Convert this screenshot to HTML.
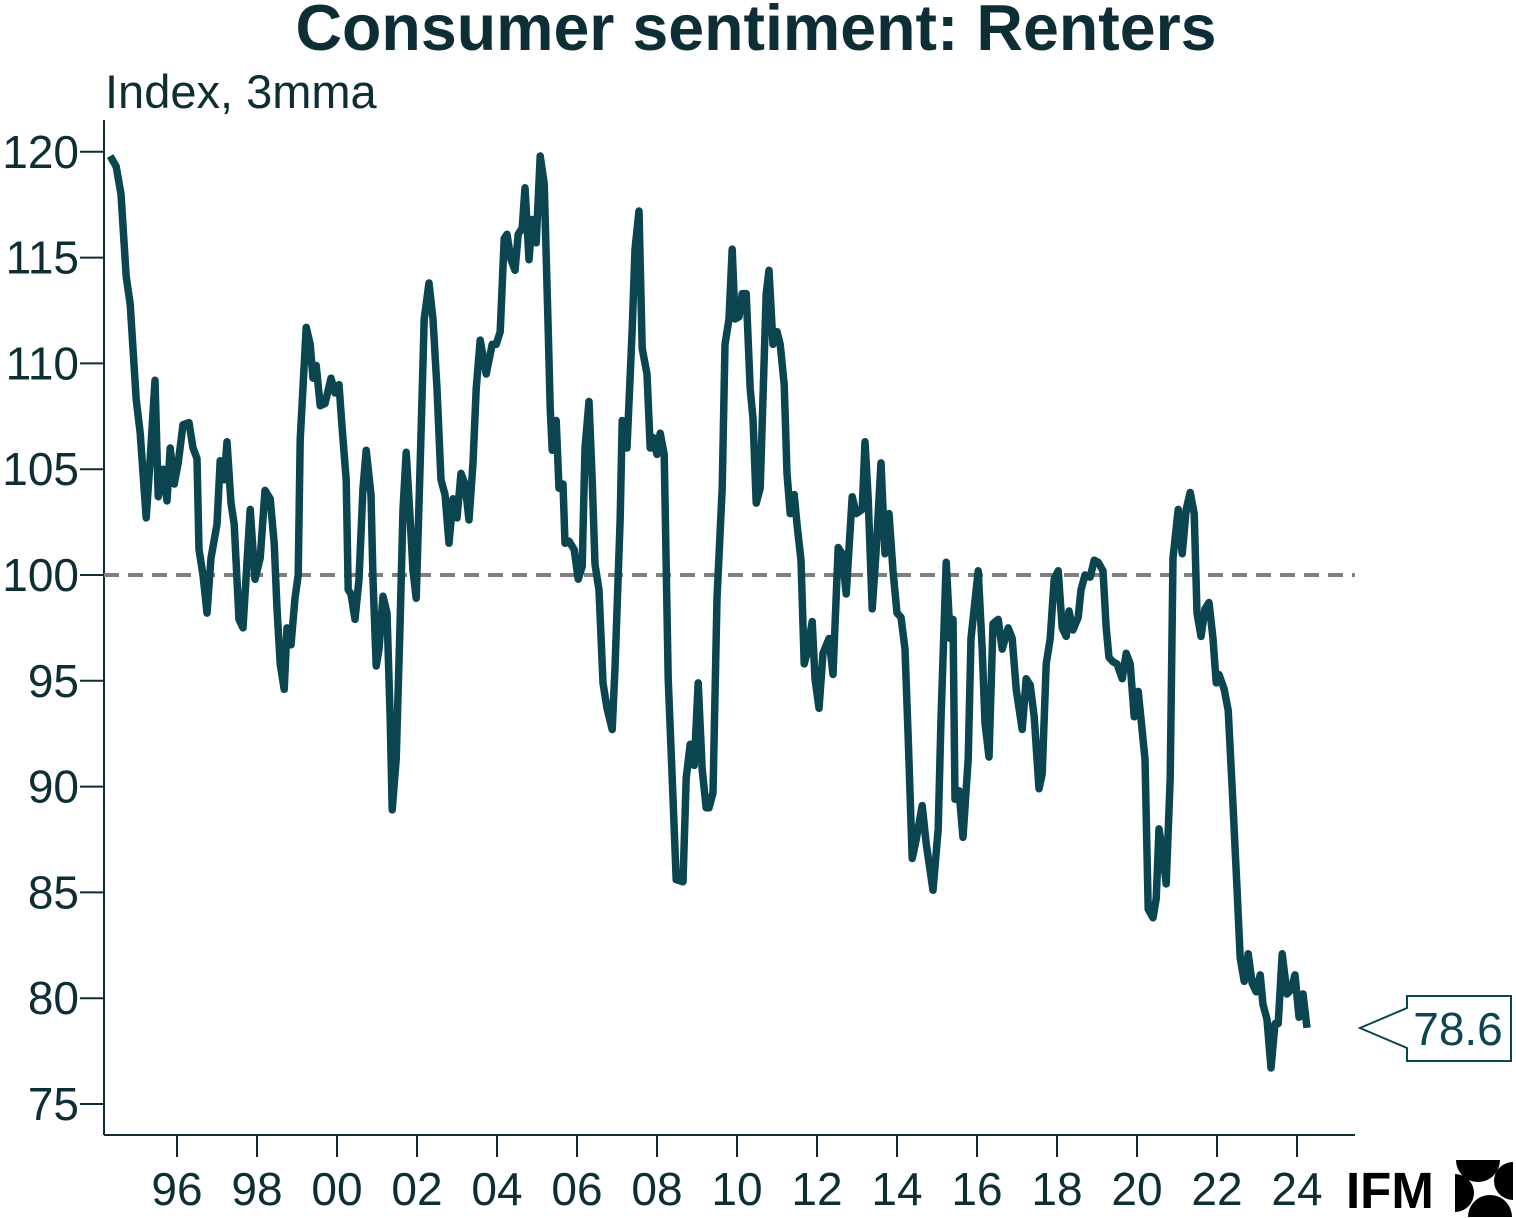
<!DOCTYPE html>
<html><head><meta charset="utf-8"><style>
html,body{margin:0;padding:0;background:#fff;}
svg{display:block;font-family:"Liberation Sans",Arial,sans-serif;}
</style></head><body>
<svg id="chart" width="1516" height="1218" viewBox="0 0 1516 1218">
<text x="756" y="50" text-anchor="middle" font-size="64.5" font-weight="bold" fill="#0e2e35">Consumer sentiment: Renters</text>
<text x="105" y="108" font-size="47" fill="#0e2e35">Index, 3mma</text>
<g id="axes"></g>
<line x1="104" y1="575" x2="1355" y2="575" stroke="#808080" stroke-width="4" stroke-dasharray="15 9" id="refline"/>
<path id="series" fill="none" stroke="#0b4550" stroke-width="7.5" stroke-linejoin="round"/>
<g>
<polygon points="1360,1028 1407,1008 1407,996 1511,996 1511,1061 1407,1061 1407,1048" fill="#fff" stroke="#0b4550" stroke-width="2"/>
<text id="lastval" x="1458" y="1045" text-anchor="middle" font-size="46" fill="#0b4550">78.6</text>
</g>
<g>
<text x="1346" y="1208" font-size="51" font-weight="bold" fill="#000">IFM</text>
<path d="M1456,1160 h44 a22,22 0 0 1 -44,0 z" fill="#000"/>
<path d="M1455,1174 v38 a19,19 0 0 0 0,-38 z" fill="#000"/>
<path d="M1513,1162 v38 a19,19 0 0 1 0,-38 z" fill="#000"/>
<path d="M1468,1217 h44 a22,22 0 0 0 -44,0 z" fill="#000"/>
</g>
</svg>
<script>
const years=[1994.33,1994.48,1994.60,1994.73,1994.83,1994.98,1995.08,1995.23,1995.33,1995.45,1995.53,1995.65,1995.75,1995.83,1995.93,1996.03,1996.15,1996.30,1996.40,1996.50,1996.55,1996.65,1996.75,1996.85,1997.00,1997.08,1997.18,1997.25,1997.35,1997.43,1997.55,1997.65,1997.83,1997.95,1998.08,1998.20,1998.33,1998.43,1998.50,1998.58,1998.68,1998.75,1998.85,1998.95,1999.03,1999.08,1999.23,1999.33,1999.40,1999.48,1999.58,1999.70,1999.85,1999.95,2000.05,2000.13,2000.23,2000.28,2000.35,2000.45,2000.55,2000.65,2000.73,2000.85,2000.90,2000.98,2001.05,2001.15,2001.25,2001.33,2001.38,2001.48,2001.58,2001.65,2001.73,2001.83,2001.90,2001.98,2002.08,2002.18,2002.30,2002.40,2002.50,2002.60,2002.70,2002.80,2002.90,2003.00,2003.10,2003.20,2003.30,2003.40,2003.48,2003.58,2003.73,2003.88,2003.98,2004.08,2004.18,2004.25,2004.35,2004.45,2004.53,2004.63,2004.70,2004.80,2004.88,2004.98,2005.08,2005.18,2005.28,2005.33,2005.38,2005.48,2005.55,2005.65,2005.70,2005.80,2005.93,2006.03,2006.13,2006.20,2006.30,2006.38,2006.45,2006.55,2006.65,2006.75,2006.88,2006.95,2007.08,2007.13,2007.25,2007.38,2007.45,2007.55,2007.63,2007.75,2007.83,2007.90,2008.00,2008.08,2008.18,2008.28,2008.38,2008.48,2008.65,2008.73,2008.83,2008.93,2009.03,2009.13,2009.23,2009.30,2009.40,2009.50,2009.63,2009.70,2009.80,2009.88,2009.95,2010.05,2010.13,2010.23,2010.33,2010.40,2010.48,2010.58,2010.73,2010.80,2010.90,2011.00,2011.08,2011.18,2011.25,2011.33,2011.43,2011.50,2011.60,2011.68,2011.75,2011.88,2011.95,2012.05,2012.15,2012.30,2012.40,2012.53,2012.63,2012.73,2012.88,2012.98,2013.13,2013.20,2013.28,2013.38,2013.48,2013.60,2013.70,2013.80,2013.90,2014.00,2014.10,2014.20,2014.28,2014.38,2014.48,2014.63,2014.73,2014.90,2015.03,2015.10,2015.23,2015.33,2015.40,2015.45,2015.55,2015.65,2015.78,2015.85,2016.03,2016.13,2016.20,2016.30,2016.40,2016.53,2016.63,2016.78,2016.88,2016.98,2017.13,2017.23,2017.33,2017.43,2017.55,2017.63,2017.73,2017.83,2017.93,2018.03,2018.13,2018.23,2018.30,2018.40,2018.53,2018.60,2018.70,2018.83,2018.93,2019.03,2019.15,2019.23,2019.30,2019.40,2019.50,2019.63,2019.73,2019.83,2019.93,2020.03,2020.10,2020.20,2020.28,2020.40,2020.48,2020.55,2020.63,2020.73,2020.83,2020.90,2021.03,2021.13,2021.23,2021.33,2021.43,2021.50,2021.60,2021.70,2021.80,2021.90,2021.98,2022.05,2022.18,2022.28,2022.38,2022.50,2022.58,2022.68,2022.78,2022.88,2022.98,2023.08,2023.15,2023.25,2023.35,2023.45,2023.53,2023.63,2023.75,2023.85,2023.95,2024.05,2024.15,2024.25];
const values=[119.8,119.3,118,114.1,112.8,108.3,106.7,102.7,105.5,109.2,103.7,105,103.5,106,104.3,105.3,107.1,107.2,106,105.5,101.2,100,98.2,100.8,102.4,105.4,104.5,106.3,103.4,102.4,97.9,97.5,103.1,99.8,100.8,104,103.6,101.5,98.4,95.8,94.6,97.5,96.7,98.9,100,106.4,111.7,110.9,109.3,109.9,108,108.1,109.3,108.6,109,106.9,104.5,99.3,99.1,97.9,99.8,104.1,105.9,103.8,99.8,95.7,96.5,99,98.2,93.2,88.9,91.3,97.9,103.1,105.8,102.6,100.2,98.9,105.3,112.1,113.8,112.1,108.8,104.5,103.8,101.5,103.6,102.7,104.8,104.3,102.6,105.3,108.8,111.1,109.5,110.9,110.9,111.5,115.9,116.1,114.9,114.4,116.1,116.4,118.3,114.9,116.8,115.7,119.8,118.5,111.6,107.9,105.9,107.3,104.1,104.3,101.5,101.6,101.2,99.8,100.4,106,108.2,104.5,100.5,99.3,94.9,93.7,92.7,95.6,102.7,107.3,106,111.6,115.4,117.2,110.7,109.5,106,106.5,105.7,106.7,105.7,95.1,90.4,85.6,85.5,90.4,92,91,94.9,90.8,89,89,89.7,98.9,104.1,110.9,112.1,115.4,112.1,112.2,113.3,113.3,108.8,107.4,103.4,104.1,113.3,114.4,110.9,111.5,110.9,109,104.8,102.9,103.8,102.4,100.7,95.8,96.3,97.8,95.1,93.7,96.3,97,95.3,101.3,101,99.1,103.7,102.9,103.1,106.3,103.6,98.4,101.2,105.3,101,102.9,100.2,98.2,98,96.5,92.3,86.6,87.5,89.1,87.3,85.1,88,93.2,100.6,97,97.9,89.4,89.8,87.6,91.3,97,100.2,96.5,93,91.4,97.7,97.9,96.5,97.5,97,94.6,92.7,95.1,94.8,93.3,89.9,90.6,95.8,97,99.8,100.2,97.5,97.1,98.3,97.4,98,99.3,100,99.9,100.7,100.6,100.2,97.5,96.1,95.9,95.8,95.1,96.3,95.8,93.3,94.5,93.2,91.3,84.2,83.8,84.7,88,87,85.4,90.4,100.8,103.1,101,103.1,103.9,102.9,98.2,97.1,98.4,98.7,97,94.9,95.3,94.6,93.6,89.9,85.2,81.9,80.8,82.1,80.7,80.3,81.1,79.7,79,76.7,78.8,78.8,82.1,80.2,80.4,81.1,79.1,80.2,78.6];
const yTicks=[75,80,85,90,95,100,105,110,115,120];
const xTicks=[1996,1998,2000,2002,2004,2006,2008,2010,2012,2014,2016,2018,2020,2022,2024];
const xTickLabels=["96","98","00","02","04","06","08","10","12","14","16","18","20","22","24"];
const refValue=100;

const NS="http://www.w3.org/2000/svg";
const L=104,R=1355,B=1135,T=120;
function xs(yr){return 177+(yr-1996)*40;}
function ys(v){return 575-(v-100)*21.16;}
const axes=document.getElementById('axes');
function mk(tag,attrs){const e=document.createElementNS(NS,tag);for(const k in attrs)e.setAttribute(k,attrs[k]);return e;}
const ya=mk('line',{x1:L,y1:T,x2:L,y2:B,stroke:'#0e2e35','stroke-width':2});


axes.appendChild(ya);
const xa=mk('line',{x1:L,y1:B,x2:R,y2:B,stroke:'#0e2e35','stroke-width':2});


axes.appendChild(xa);
yTicks.forEach(v=>{
  const y=ys(v);
  const t=mk('line',{x1:80,y1:y,x2:L,y2:y,stroke:'#0e2e35','stroke-width':2});
  
  
  axes.appendChild(t);
  const tx=mk('text',{x:79,y:y+16,'text-anchor':'end','font-size':46,fill:'#0e2e35'});
  tx.textContent=v;
  
  
  axes.appendChild(tx);
});
xTicks.forEach((yr,i)=>{
  const x=xs(yr);
  const t=mk('line',{x1:x,y1:B,x2:x,y2:B+22,stroke:'#0e2e35','stroke-width':2});
  
  
  axes.appendChild(t);
  const tx=mk('text',{x:x,y:1205,'text-anchor':'middle','font-size':46,fill:'#0e2e35'});
  tx.textContent=xTickLabels[i];
  
  
  axes.appendChild(tx);
});
const rl=document.getElementById('refline');
rl.setAttribute('y1',ys(refValue));rl.setAttribute('y2',ys(refValue));
let d='';
years.forEach((yr,i)=>{d+=(i?'L':'M')+xs(yr).toFixed(1)+','+ys(values[i]).toFixed(1);});
document.getElementById('series').setAttribute('d',d);
document.getElementById('lastval').textContent=values[values.length-1].toFixed(1);
</script>
</body></html>
